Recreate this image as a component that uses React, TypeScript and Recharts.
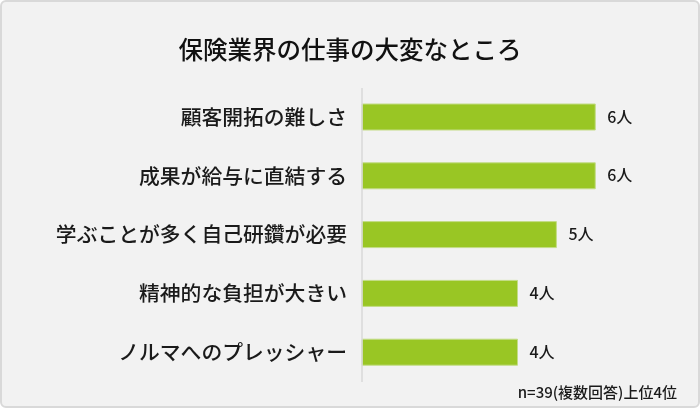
import React from 'react';
import { BarChart, Bar, XAxis, YAxis, LabelList } from 'recharts';

const categories = [
  '顧客開拓の難しさ',
  '成果が給与に直結する',
  '学ぶことが多く自己研鑽が必要',
  '精神的な負担が大きい',
  'ノルマへのプレッシャー',
];
const counts = [6, 6, 5, 4, 4];

const title = '保険業界の仕事の大変なところ';
const note = 'n=39(複数回答)上位4位';

const data = categories.map((name, i) => ({ name, value: counts[i] }));

const FONT = '"Noto Sans CJK JP", "Noto Sans", sans-serif';

export default function App() {
  return (
    <div
      style={{
        position: 'fixed',
        left: 0,
        top: 0,
        width: 700,
        height: 408,
        boxSizing: 'border-box',
        background: '#f2f2f2',
        border: '2px solid #d9d9d9',
        borderRadius: 6,
        fontFamily: FONT,
        overflow: 'hidden',
      }}
    >
      <div
        style={{
          position: 'absolute',
          left: -2,
          top: 30,
          width: 700,
          textAlign: 'center',
          fontSize: 24.5,
          fontWeight: 500,
          color: '#111',
          lineHeight: '34px',
        }}
      >
        {title}
      </div>
      <div style={{ position: 'absolute', left: -2, top: -2 }}>
        <BarChart
          width={700}
          height={408}
          data={data}
          layout="vertical"
          margin={{ top: 88, right: 27, bottom: 26, left: 0 }}
          barSize={26}
        >
          <XAxis type="number" domain={[0, 8]} hide />
          <YAxis
            type="category"
            dataKey="name"
            width={362}
            axisLine={{ stroke: '#d9d9d9', strokeWidth: 1.5 }}
            tickLine={false}
            tickSize={0}
            tickMargin={15}
            tick={{ fontSize: 20.8, fontWeight: 500, fill: '#1a1a1a', fontFamily: FONT }}
            interval={0}
          />
          <Bar dataKey="value" fill="#99c624" stroke="#c3dc86" strokeWidth={1} isAnimationActive={false}>
            <LabelList
              dataKey="value"
              position="right"
              offset={12}
              formatter={(v: number) => `${v}人`}
              style={{ fontSize: 16, fontWeight: 500, fill: '#1a1a1a', fontFamily: FONT }}
            />
          </Bar>
        </BarChart>
      </div>
      <div
        style={{
          position: 'absolute',
          right: 21,
          top: 380,
          fontSize: 15,
          fontWeight: 500,
          color: '#1a1a1a',
          lineHeight: '20px',
        }}
      >
        {note}
      </div>
    </div>
  );
}
